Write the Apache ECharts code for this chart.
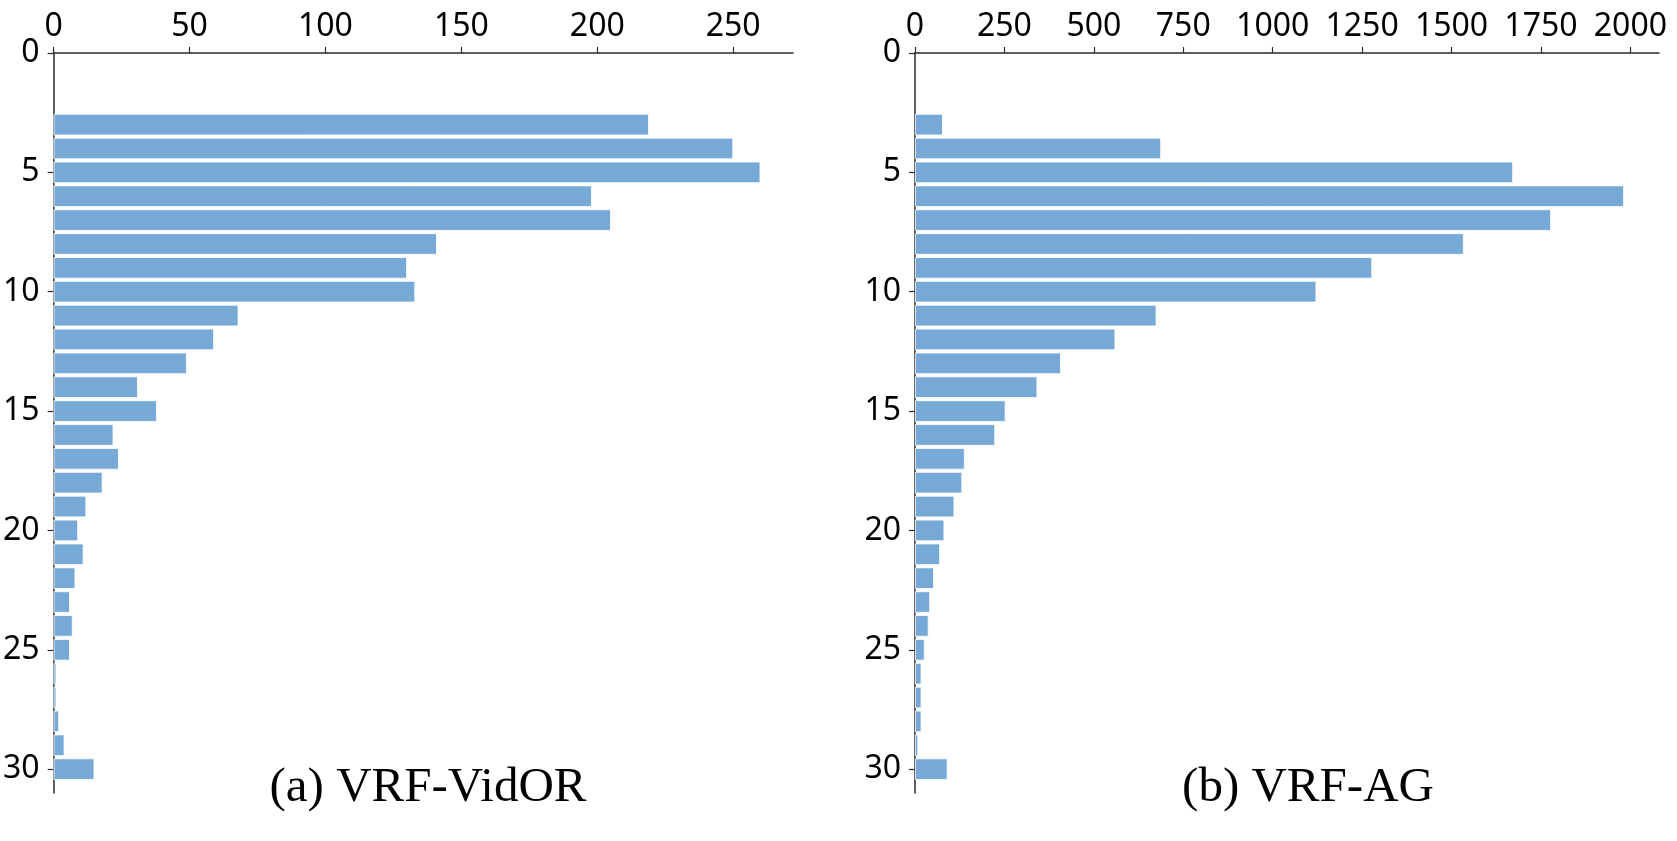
<!DOCTYPE html>
<html>
<head>
<meta charset="utf-8">
<title>VRF histograms</title>
<script src="https://cdn.jsdelivr.net/npm/echarts@6/dist/echarts.min.js"></script>
<style>
  html, body { margin: 0; padding: 0; background: #fff; }
  #chart { width: 1677px; height: 841px; }
</style>
</head>
<body>
<div id="chart"></div>
<script>
// bins on the vertical axis (0 at the top)
const bins = ['0','1','2','3','4','5','6','7','8','9','10','11','12','13','14','15',
  '16','17','18','19','20','21','22','23','24','25','26','27','28','29','30','31'];
const firstBin = 3; // counts below start at bin 3 and run to bin 30

// (a) VRF-VidOR counts, bins 3..30
const vidorCounts = [219, 250, 260, 198, 205, 141, 130, 133, 68, 59, 49, 31, 38, 22,
  24, 18, 12, 9, 11, 8, 6, 7, 6, 1, 1, 2, 4, 15];
// (b) VRF-AG counts, bins 3..30
const agCounts = [78, 688, 1672, 1982, 1778, 1534, 1278, 1122, 675, 560, 408, 342, 253, 224,
  139, 132, 110, 82, 70, 53, 42, 38, 27, 18, 18, 18, 9, 91];

const vidorTicks = [0, 50, 100, 150, 200, 250];
const agTicks = [0, 250, 500, 750, 1000, 1250, 1500, 1750, 2000];

const captions = ['(a) VRF-VidOR', '(b) VRF-AG'];

const barColor = '#77a9d6';
const axisColor = '#2b2b2b';
const tickFont = "'Noto Sans', 'DejaVu Sans', sans-serif";
const captionFont = "'Liberation Serif', 'Times New Roman', serif";

function toPairs(counts) {
  return counts.map((v, i) => [v, bins[i + firstBin]]);
}

function valueAxis(gridIndex, max, ticks) {
  return {
    type: 'value',
    gridIndex: gridIndex,
    position: 'top',
    min: 0,
    max: max,
    splitLine: { show: false },
    axisLine: { show: true, lineStyle: { color: axisColor, width: 1.5 } },
    axisTick: { show: true, length: 6, customValues: ticks, lineStyle: { color: axisColor, width: 1.2 } },
    axisLabel: {
      customValues: ticks,
      formatter: (v) => String(v),
      margin: 10,
      color: '#000',
      fontFamily: tickFont,
      fontSize: 32
    }
  };
}

function binAxis(gridIndex) {
  return {
    type: 'category',
    gridIndex: gridIndex,
    data: bins,
    inverse: true,
    boundaryGap: false,
    axisLine: { show: true, lineStyle: { color: axisColor, width: 1.5 } },
    axisTick: {
      show: true,
      length: 6,
      interval: (i) => i % 5 === 0,
      lineStyle: { color: axisColor, width: 1.2 }
    },
    axisLabel: {
      interval: (i) => i % 5 === 0,
      margin: 14,
      color: '#000',
      fontFamily: tickFont,
      fontSize: 32
    },
    splitLine: { show: false }
  };
}

function barSeries(idx, counts) {
  return {
    type: 'bar',
    xAxisIndex: idx,
    yAxisIndex: idx,
    data: toPairs(counts),
    barCategoryGap: '10%',
    itemStyle: { color: barColor, borderColor: '#ffffff', borderWidth: 0.8 },
    silent: true
  };
}

const chart = echarts.init(document.getElementById('chart'), null, { renderer: 'canvas' });

chart.setOption({
  animation: false,
  backgroundColor: '#ffffff',
  title: [
    {
      text: captions[0], left: 428, top: 764, textAlign: 'center', padding: 0,
      textStyle: { fontFamily: captionFont, fontWeight: 'normal', fontSize: 49, color: '#000' }
    },
    {
      text: captions[1], left: 1308, top: 764, textAlign: 'center', padding: 0,
      textStyle: { fontFamily: captionFont, fontWeight: 'normal', fontSize: 49, color: '#000' }
    }
  ],
  grid: [
    { left: 50, top: 53, width: 743, height: 740 },
    { left: 915, top: 53, width: 744, height: 740 }
  ],
  xAxis: [valueAxis(0, 272, vidorTicks), valueAxis(1, 2080, agTicks)],
  yAxis: [binAxis(0), binAxis(1)],
  series: [barSeries(0, vidorCounts), barSeries(1, agCounts)]
});

window.addEventListener('resize', function () {
  chart.resize();
});
</script>
</body>
</html>
